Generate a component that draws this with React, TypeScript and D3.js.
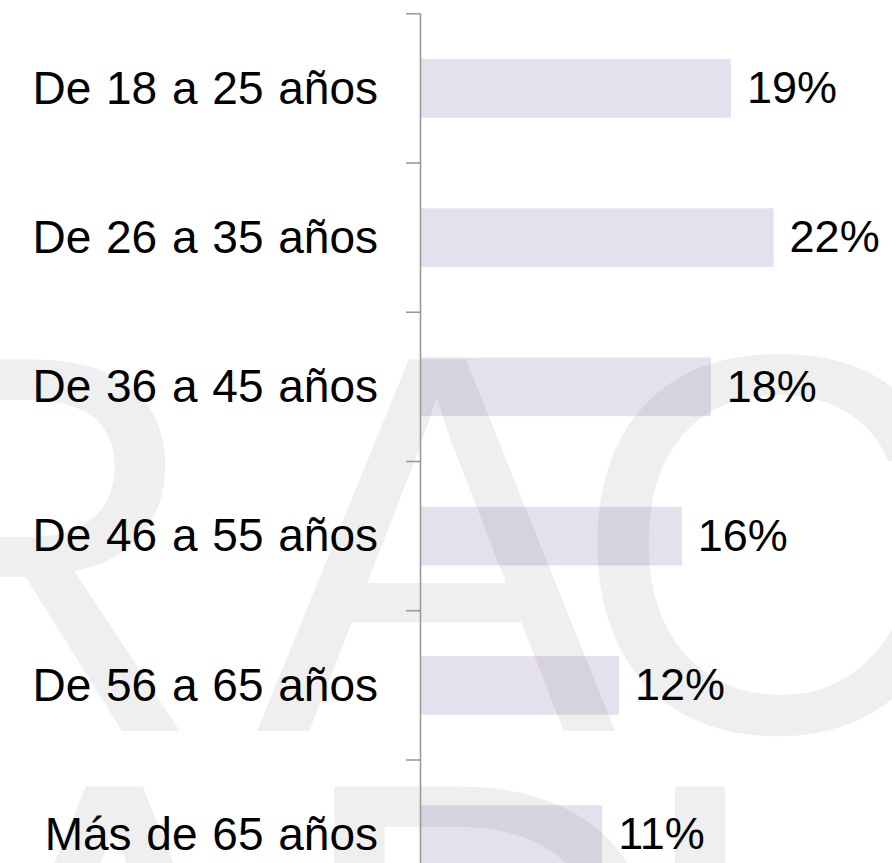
import React from "react";
import * as d3 from "d3";

const categories = [
  "De 18 a 25 años",
  "De 26 a 35 años",
  "De 36 a 45 años",
  "De 46 a 55 años",
  "De 56 a 65 años",
  "Más de 65 años",
];
const values = [19.25, 21.9, 18.0, 16.2, 12.3, 11.25];
const valueLabels = ["19%", "22%", "18%", "16%", "12%", "11%"];

const watermarkTop = ["R", "A", "C"];
const watermarkBottom = ["A", "D", "I"];

const W = 892;
const H = 863;

export default function App() {
  const x = d3.scaleLinear().domain([0, 29]).range([421, 421 + 29 * 16.1]);
  const y = d3
    .scaleBand<string>()
    .domain(categories)
    .range([13.75, 13.75 + 149.25 * categories.length])
    .paddingInner(0.607)
    .paddingOuter(0.607 / 2);
  const step = y.step();
  const y0 = y.range()[0];
  const boundaries = d3.range(categories.length + 1).map((i) => y0 + i * step);
  const font = "'Liberation Sans', Arial, Helvetica, sans-serif";

  const topX = [-185, 256, 570];
  const bottomX = [-67, 290, 625];

  return (
    <svg
      width={W}
      height={H}
      style={{ position: "absolute", left: 0, top: 0, display: "block", background: "#fff" }}
    >
      <rect x={0} y={0} width={W} height={H} fill="#ffffff" />
      {categories.map((c, i) => (
        <rect
          key={c}
          x={x(0)}
          y={y(c)}
          width={x(values[i]) - x(0)}
          height={y.bandwidth()}
          fill="#e5e0ed"
        />
      ))}
      <g fontFamily={font} fontSize={540} fill="#000" fillOpacity={0.062}>
        {watermarkTop.map((l, i) => (
          <text key={"t" + i} x={topX[i]} y={731}>
            {l}
          </text>
        ))}
        {watermarkBottom.map((l, i) => (
          <text key={"b" + i} x={bottomX[i]} y={1158}>
            {l}
          </text>
        ))}
      </g>
      <line x1={420.5} x2={420.5} y1={y0} y2={y0 + step * categories.length} stroke="#9a9a9a" strokeWidth={1.6} />
      {boundaries.map((b, i) => (
        <line key={i} x1={406} x2={420.5} y1={b} y2={b} stroke="#9a9a9a" strokeWidth={1.6} />
      ))}
      <g fontFamily={font} fill="#000">
        {categories.map((c) => (
          <text
            key={c}
            x={378}
            y={(y(c) as number) + y.bandwidth() / 2}
            dy="0.33em"
            textAnchor="end"
            fontSize={46}
            wordSpacing={2}
          >
            {c}
          </text>
        ))}
        {categories.map((c, i) => (
          <text
            key={"v" + c}
            x={x(values[i]) + 16}
            y={(y(c) as number) + y.bandwidth() / 2}
            dy="0.33em"
            fontSize={45}
          >
            {valueLabels[i]}
          </text>
        ))}
      </g>
    </svg>
  );
}
